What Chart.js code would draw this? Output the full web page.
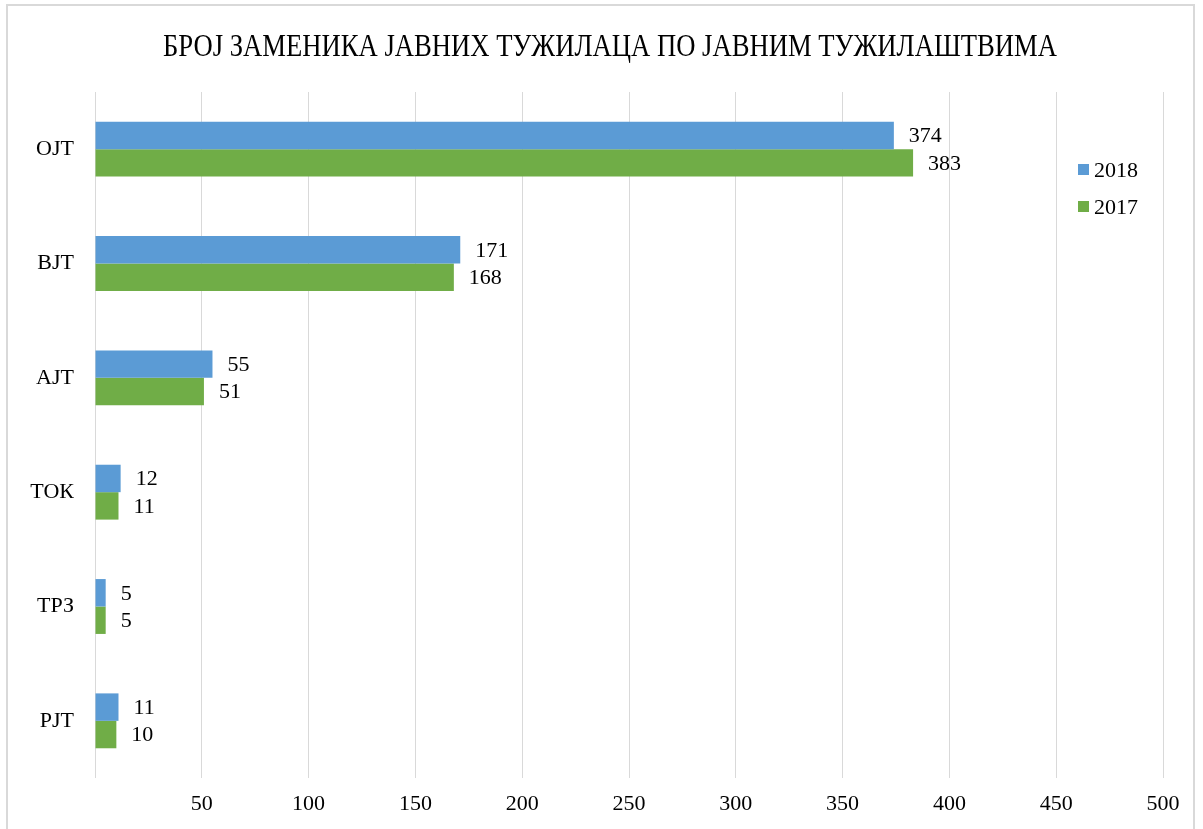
<!DOCTYPE html>
<html>
<head>
<meta charset="utf-8">
<script src="https://cdn.jsdelivr.net/npm/chart.js@4"></script>
<style>
    body { margin: 0; background: #fff; }
    #wrap { position: relative; width: 1203px; height: 829px; }
    #frame { position: absolute; left: 6px; top: 4px; width: 1189px; height: 840px; border: 2px solid #d9d9d9; box-sizing: border-box; }
    canvas { position: absolute; left: 0; top: 0; }
    #legend { position: absolute; left: 1078px; top: 151px; font: 22px 'Liberation Serif', 'Times New Roman', serif; color: #000; }
    #legend div { height: 37px; display: flex; align-items: center; }
    #legend span.box { display: inline-block; width: 11px; height: 11px; margin-right: 5px; }
</style>
</head>
<body>
<div id="wrap">
    <div id="frame"></div>
    <canvas id="chart" width="1203" height="829"></canvas>
    <div id="legend"></div>
</div>
<script>
// Data
const categories = ['ОЈТ', 'ВЈТ', 'АЈТ', 'ТОК', 'ТРЗ', 'РЈТ'];
const values2018 = [374, 171, 55, 12, 5, 11];
const values2017 = [383, 168, 51, 11, 5, 10];
const xTicks = [0, 50, 100, 150, 200, 250, 300, 350, 400, 450, 500];
const titleText = 'БРОЈ ЗАМЕНИКА ЈАВНИХ ТУЖИЛАЦА ПО ЈАВНИМ ТУЖИЛАШТВИМА';

const COLORS = {
    blue: '#5B9BD5',
    green: '#70AD47',
    grid: '#d9d9d9',
    text: '#000'
};

const FONT = "'Liberation Serif', 'Times New Roman', serif";

// value labels at the end of each bar
const valueLabels = {
    id: 'valueLabels',
    afterDatasetsDraw(chart) {
        const ctx = chart.ctx;
        ctx.save();
        ctx.font = '22px ' + FONT;
        ctx.fillStyle = COLORS.text;
        ctx.textAlign = 'left';
        ctx.textBaseline = 'middle';
        chart.data.datasets.forEach((ds, i) => {
            chart.getDatasetMeta(i).data.forEach((bar, j) => {
                ctx.fillText(ds.data[j], bar.x + 15, bar.y + 1);
            });
        });
        ctx.restore();
    }
};

// condensed title, like the original (tall narrow serif)
const condensedTitle = {
    id: 'condensedTitle',
    afterDraw(chart) {
        const ctx = chart.ctx;
        ctx.save();
        ctx.font = '32px ' + FONT;
        ctx.fillStyle = COLORS.text;
        ctx.textAlign = 'center';
        ctx.textBaseline = 'middle';
        const w = ctx.measureText(titleText).width;
        const sx = 894 / w;
        ctx.translate(610, 48);
        ctx.scale(sx, 1);
        ctx.fillText(titleText, 0, 0);
        ctx.restore();
    }
};

const datasets = [
    { label: '2018', data: values2018, backgroundColor: COLORS.blue },
    { label: '2017', data: values2017, backgroundColor: COLORS.green }
];

new Chart(document.getElementById('chart'), {
    type: 'bar',
    data: { labels: categories, datasets: datasets },
    options: {
        indexAxis: 'y',
        responsive: false,
        animation: false,
        layout: { padding: { left: 0, right: 40, top: 92, bottom: 0 } },
        datasets: { bar: { categoryPercentage: 0.48, barPercentage: 1.0, borderWidth: 0 } },
        plugins: {
            legend: { display: false },
            tooltip: { enabled: false },
            title: { display: false }
        },
        scales: {
            x: {
                min: 0,
                max: 500,
                afterBuildTicks: scale => { scale.ticks = xTicks.map(v => ({ value: v })); },
                afterFit: scale => { scale.height = 51; },
                grid: { color: COLORS.grid, lineWidth: 1, drawTicks: false },
                border: { display: false },
                ticks: {
                    padding: 13,
                    color: COLORS.text,
                    font: { family: FONT, size: 22 },
                    callback: value => value === 0 ? '' : value
                }
            },
            y: {
                afterFit: scale => { scale.width = 95; },
                grid: { display: false, drawTicks: false },
                border: { display: false },
                ticks: {
                    padding: 21,
                    color: COLORS.text,
                    font: { family: FONT, size: 22 }
                }
            }
        }
    },
    plugins: [valueLabels, condensedTitle]
});

// legend inside the plot area
const legend = document.getElementById('legend');
datasets.forEach(ds => {
    const row = document.createElement('div');
    row.innerHTML = '<span class="box" style="background:' + ds.backgroundColor + '"></span>' + ds.label;
    legend.appendChild(row);
});
</script>
</body>
</html>
